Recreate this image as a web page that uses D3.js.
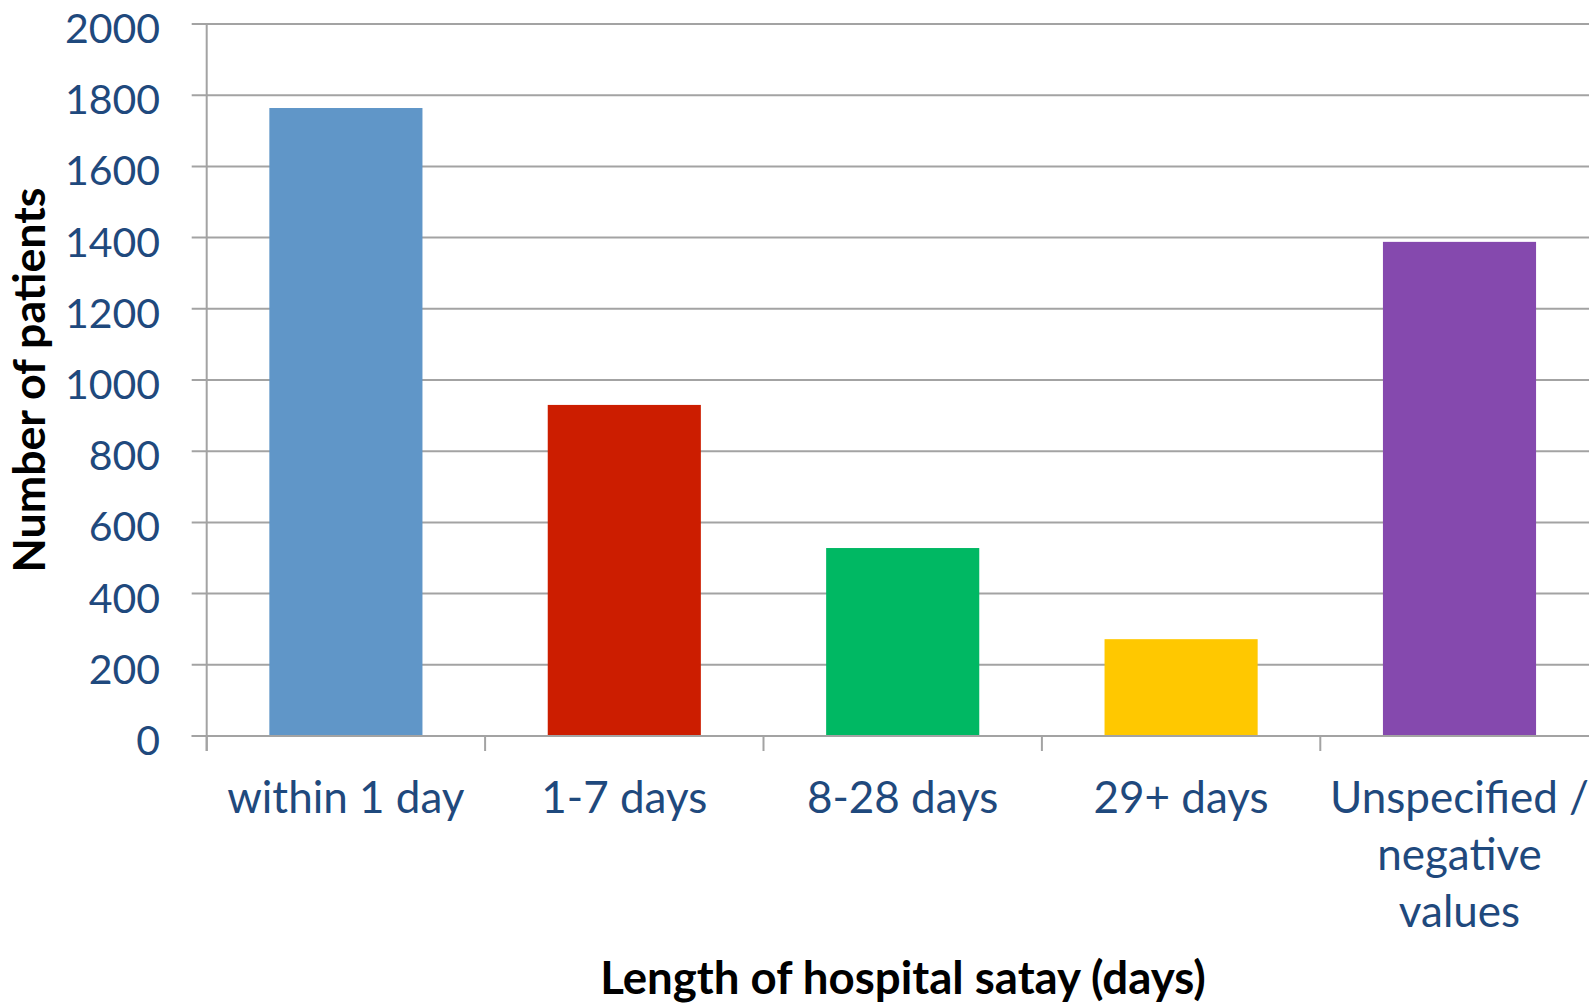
<!DOCTYPE html>
<html>
<head>
<meta charset="utf-8">
<script src="https://cdn.jsdelivr.net/npm/d3@7"></script>
<style>
  html, body { margin: 0; padding: 0; background: #fff; overflow: hidden; }
  svg { display: block; }
  text { font-family: Lato, "Open Sans", "Noto Sans", sans-serif; }
</style>
</head>
<body>
<svg id="chart" width="1589" height="1004"></svg>
<script>
// ---- data ----
const categories = ["within 1 day", "1-7 days", "8-28 days", "29+ days", "Unspecified / negative values"];
const categoryLabelLines = [["within 1 day"], ["1-7 days"], ["8-28 days"], ["29+ days"], ["Unspecified /", "negative", "values"]];
const patientCounts = [1764, 930, 528, 272, 1388];
const barColors = ["#6096C8", "#CC1D00", "#00B863", "#FFC800", "#8549AE"];
const yTickValues = [0, 200, 400, 600, 800, 1000, 1200, 1400, 1600, 1800, 2000];
const xAxisTitle = "Length of hospital satay (days)";
const yAxisTitle = "Number of patients";

// ---- layout ----
const svg = d3.select("#chart");
const plotLeft = 206.7, plotRight = 1598.7, plotTop = 24, plotBottom = 736;
const textBlue = "#1F497D";
const gridGray = "#A3A3A3";

const x = d3.scaleBand().domain(categories).range([plotLeft, plotRight])
  .paddingInner(0.45).paddingOuter(0.225);
const y = d3.scaleLinear().domain([0, 2000]).range([plotBottom, plotTop]);

// gridlines + y ticks
svg.append("g").selectAll("line").data(yTickValues).join("line")
  .attr("x1", plotLeft - 15).attr("x2", plotRight)
  .attr("y1", d => y(d)).attr("y2", d => y(d))
  .attr("stroke", gridGray).attr("stroke-width", 2);

// bars
svg.append("g").selectAll("rect").data(categories).join("rect")
  .attr("x", d => x(d))
  .attr("y", (d, i) => y(patientCounts[i]))
  .attr("width", x.bandwidth())
  .attr("height", (d, i) => y(0) - y(patientCounts[i]))
  .attr("fill", (d, i) => barColors[i]);

// baseline (x axis)
svg.append("line")
  .attr("x1", plotLeft - 15).attr("x2", plotRight)
  .attr("y1", y(0)).attr("y2", y(0))
  .attr("stroke", gridGray).attr("stroke-width", 2);

// y axis line
svg.append("line")
  .attr("x1", plotLeft).attr("x2", plotLeft)
  .attr("y1", plotTop).attr("y2", plotBottom + 15)
  .attr("stroke", gridGray).attr("stroke-width", 2);

// x boundary ticks
const boundaries = d3.range(categories.length + 1).map(i => plotLeft + i * x.step());
svg.append("g").selectAll("line").data(boundaries).join("line")
  .attr("x1", d => d).attr("x2", d => d)
  .attr("y1", plotBottom).attr("y2", plotBottom + 15)
  .attr("stroke", gridGray).attr("stroke-width", 2);

// y tick labels
svg.append("g").selectAll("text").data(yTickValues).join("text")
  .attr("x", 160).attr("y", d => y(d) + 19)
  .attr("text-anchor", "end")
  .attr("fill", textBlue)
  .style("font-size", "41px")
  .text(d => d);

// category labels
const catG = svg.append("g");
categories.forEach((c, i) => {
  const t = catG.append("text")
    .attr("text-anchor", "middle")
    .attr("fill", textBlue)
    .style("font-size", "44px");
  categoryLabelLines[i].forEach((line, j) => {
    t.append("tspan")
      .attr("x", x(c) + x.bandwidth() / 2)
      .attr("y", 813 + j * 57)
      .text(line);
  });
});

// axis titles
function fitWidth(sel, target) {
  const w = sel.node().getComputedTextLength();
  const fs = parseFloat(sel.style("font-size"));
  sel.style("font-size", (fs * target / w) + "px");
}

const xt = svg.append("text")
  .attr("x", 903).attr("y", 994)
  .attr("text-anchor", "middle")
  .attr("fill", "#000")
  .style("font-weight", "bold")
  .style("font-size", "44px")
  .text(xAxisTitle);
fitWidth(xt, 606);

const yt = svg.append("text")
  .attr("transform", "translate(45,380) rotate(-90)")
  .attr("text-anchor", "middle")
  .attr("fill", "#000")
  .style("font-weight", "bold")
  .style("font-size", "42px")
  .text(yAxisTitle);
fitWidth(yt, 385);
</script>
</body>
</html>
